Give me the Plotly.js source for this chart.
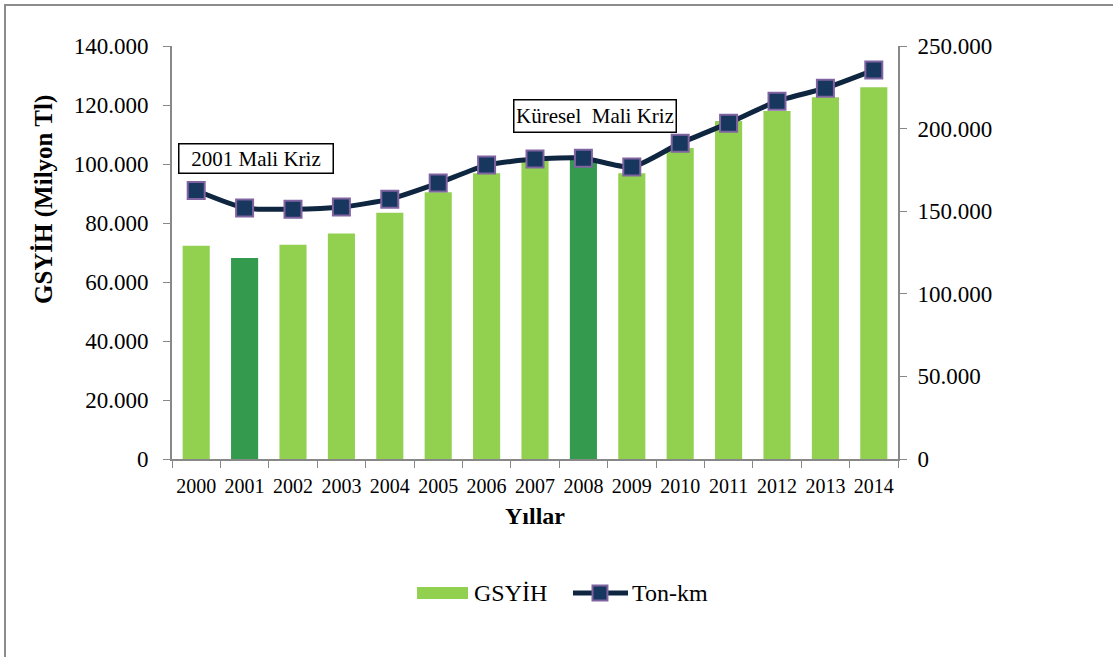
<!DOCTYPE html>
<html>
<head>
<meta charset="utf-8">
<script src="https://cdn.plot.ly/plotly-3.0.1.min.js"></script>
<style>
html,body{margin:0;padding:0;background:#fff;}
#frame{position:absolute;left:4px;top:4px;width:1109px;height:651px;border-left:2px solid #8c8c8c;border-top:2px solid #8c8c8c;border-bottom:1px solid #d4d4d4;}
#chart{position:absolute;left:0;top:0;width:1113px;height:657px;}
</style>
</head>
<body>
<div id="frame"></div>
<div id="chart"></div>
<script>
const years = ["2000","2001","2002","2003","2004","2005","2006","2007","2008","2009","2010","2011","2012","2013","2014"];
const gsyih = [72300, 68100, 72600, 76400, 83500, 90400, 96900, 101300, 101800, 96900, 105400, 114600, 118000, 122600, 126000];
const tonKm = [162500, 151900, 151200, 152500, 157300, 167000, 177900, 181600, 182100, 176700, 191200, 203300, 216600, 224500, 235400];
const crisisYears = ["2001","2008"];
const annotationTexts = ["2001 Mali Kriz", "Küresel&nbsp; Mali Kriz"];
const seriesNames = ["GSYİH", "Ton-km"];
const axisTitles = {x:"Yıllar", y:"GSYİH (Milyon Tl)"};

const lightGreen = "#92D050", darkGreen = "#339A4E";
const navy = "#0F2641", markerFill = "#17375E", markerEdge = "#8064A2";
const barColors = years.map(y => crisisYears.includes(y) ? darkGreen : lightGreen);

const font = "'Liberation Serif', 'Times New Roman', serif";

const traces = [
  {type:"bar", x:years, y:gsyih, name:seriesNames[0], marker:{color:barColors}, yaxis:"y", showlegend:false},
  {type:"scatter", mode:"lines+markers", x:years, y:tonKm, name:seriesNames[1], yaxis:"y2", showlegend:false,
   line:{color:navy, width:5, shape:"spline", smoothing:0.6},
   marker:{symbol:"square", size:17, color:markerFill, line:{color:markerEdge, width:2}}}
];

// custom legend (paper coordinates), matching the wide swatch of the original
const legY = -0.3245;
const shapes = [
  {type:"rect", xref:"paper", yref:"paper", x0:0.3375, x1:0.4077, y0:legY-0.0145, y1:legY+0.0145, fillcolor:lightGreen, line:{width:0}},
  {type:"line", xref:"paper", yref:"paper", x0:0.5523, x1:0.6281, y0:legY, y1:legY, line:{color:navy, width:5}},
  {type:"rect", xref:"paper", yref:"paper", x0:0.5895-0.0103, x1:0.5895+0.0103, y0:legY-0.018, y1:legY+0.018, fillcolor:markerFill, line:{color:markerEdge, width:2}}
];

const layout = {
  width:1113, height:657,
  paper_bgcolor:"rgba(0,0,0,0)", plot_bgcolor:"rgba(0,0,0,0)",
  separators:",.",
  font:{family:font, size:20, color:"#000"},
  margin:{l:172, r:215, t:46, b:198},
  bargap:0.44,
  showlegend:false,
  xaxis:{type:"category", range:[-0.5,14.5], tickson:"boundaries", ticks:"outside", ticklen:7, tickcolor:"#888", showline:true, linecolor:"#888", linewidth:2,
    tickangle:0, ticklabelstandoff:8,
    title:{text:"<b>"+axisTitles.x+"</b>", font:{size:24, family:font}, standoff:11}, tickfont:{size:20, family:font}},
  yaxis:{range:[0,140000], dtick:20000, tickformat:",d", ticks:"outside", ticklen:7, tickcolor:"#888", showline:true, linecolor:"#888", linewidth:2,
    ticklabelstandoff:10,
    showgrid:false, zeroline:false, tickfont:{size:23, family:font}},
  yaxis2:{range:[0,250000], dtick:50000, tickformat:",d", overlaying:"y", side:"right", ticks:"outside", ticklen:7, tickcolor:"#888",
    ticklabelstandoff:6,
    showline:true, linecolor:"#888", linewidth:2, showgrid:false, zeroline:false, tickfont:{size:23, family:font}},
  shapes:shapes,
  annotations:[
    {xref:"paper", yref:"paper", x:-0.1763, y:0.627, xanchor:"center", yanchor:"middle", textangle:-90, text:"<b>"+axisTitles.y+"</b>", showarrow:false,
     font:{size:25, family:font}},
    {xref:"paper", yref:"y", x:0.008, y:101700, xanchor:"left", yanchor:"middle", text:annotationTexts[0], showarrow:false,
     width:149, height:24, align:"center", valign:"middle",
     bordercolor:"#000", borderwidth:1.5, borderpad:2, bgcolor:"#fff", font:{size:21, family:font}},
    {xref:"paper", yref:"y", x:0.4697, y:116300, xanchor:"left", yanchor:"middle", text:annotationTexts[1], showarrow:false,
     width:157, height:27, align:"center", valign:"middle",
     bordercolor:"#000", borderwidth:1.5, borderpad:2, bgcolor:"#fff", font:{size:21, family:font}},
    {xref:"paper", yref:"paper", x:0.4132, y:legY, xanchor:"left", yanchor:"middle", text:seriesNames[0], showarrow:false, font:{size:24, family:font}},
    {xref:"paper", yref:"paper", x:0.6309, y:legY, xanchor:"left", yanchor:"middle", text:seriesNames[1], showarrow:false, font:{size:24, family:font}}
  ]
};

Plotly.newPlot("chart", traces, layout, {displayModeBar:false, staticPlot:true});
</script>
</body>
</html>
